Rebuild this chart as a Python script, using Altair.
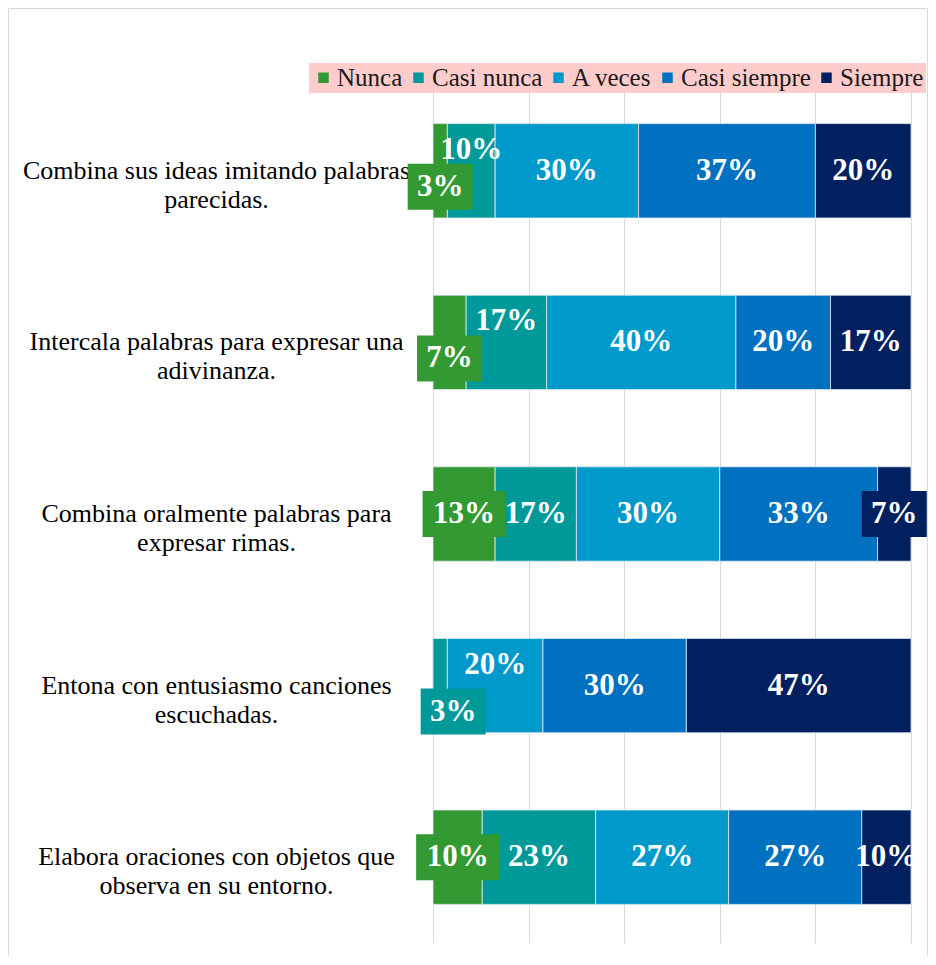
import altair as alt
import pandas as pd

categories = [
    "Combina sus ideas imitando palabras\nparecidas.",
    "Intercala palabras para expresar una\nadivinanza.",
    "Combina oralmente palabras para\nexpresar rimas.",
    "Entona con entusiasmo canciones\nescuchadas.",
    "Elabora oraciones con objetos que\nobserva en su entorno.",
]
series = ["Nunca", "Casi nunca", "A veces", "Casi siempre", "Siempre"]
colors = ["#339933", "#009999", "#0099CC", "#0070C0", "#002060"]

nunca = [3, 7, 13, 0, 10]
casi_nunca = [10, 17, 17, 3, 23]
a_veces = [30, 40, 30, 20, 27]
casi_siempre = [37, 20, 33, 30, 27]
siempre = [20, 17, 7, 47, 10]

# label placement style (row index, series) -> style name; default "center"
label_place = {
    (0, "Nunca"): "below", (0, "Casi nunca"): "above",
    (1, "Nunca"): "below", (1, "Casi nunca"): "above",
    (3, "Casi nunca"): "low", (3, "A veces"): "above",
}
# labels drawn with a filled callout box in the series colour
label_boxed = {(0, "Nunca"), (1, "Nunca"), (2, "Nunca"), (2, "Siempre"),
               (3, "Casi nunca"), (4, "Nunca")}

values = [nunca, casi_nunca, a_veces, casi_siempre, siempre]
rows = []
for si, s in enumerate(series):
    for ci, c in enumerate(categories):
        v = values[si][ci]
        rows.append({
            "category": c, "series": s, "order": si, "value": v,
            "label": f"{v}%", "place": label_place.get((ci, s), "center"),
            "boxed": (ci, s) in label_boxed, "nchar": len(f"{v}%"),
        })
df = pd.DataFrame(rows)

FONT = "Liberation Serif"
# placement style -> (x shift, y shift) in pixels
offsets = {"center": (0, 0), "above": (0, -21), "below": (0, 16), "low": (13, 26)}

y_enc = alt.Y(
    "category:N", sort=categories,
    scale=alt.Scale(paddingInner=0.45, paddingOuter=0.225),
    axis=alt.Axis(title=None, ticks=False, tickSize=0, domain=False,
                  labelAlign="center", labelPadding=217, labelFont=FONT,
                  labelFontSize=26, labelColor="#000000", labelLineHeight=29,
                  labelBaseline="middle", labelLimit=600,
                  labelExpr="split(datum.label, '\\n')"),
)
x_axis = alt.Axis(values=[0, 0.2, 0.4, 0.6, 0.8, 1], grid=True, labels=False,
                  ticks=False, domain=False, title=None,
                  gridColor="#D9D9D9", gridWidth=1)
x_scale = alt.Scale(domain=[0, 1], nice=False, zero=True)
color_scale = alt.Scale(domain=series, range=colors)

base = alt.Chart(df).transform_stack(
    stack="value", groupby=["category"], as_=["x0", "x1"], offset="normalize",
    sort=[alt.SortField("order", order="ascending")],
).transform_calculate(mid="(datum.x0 + datum.x1) / 2")

bars = base.mark_bar(stroke="#E3E8F0", strokeWidth=0.8).encode(
    x=alt.X("x0:Q", scale=x_scale, axis=x_axis),
    x2="x1:Q",
    y=y_enc,
    color=alt.Color(
        "series:N", scale=color_scale, sort=series,
        legend=alt.Legend(orient="none", legendX=-124, legendY=-22,
                          direction="horizontal", title=None,
                          symbolType="square", symbolSize=110,
                          symbolStrokeWidth=0, labelFont=FONT,
                          labelFontSize=25, labelColor="#1a1a1a",
                          labelOffset=1, columnPadding=3,
                          fillColor="#FFCCCC", padding=2, labelLimit=300),
    ),
    order=alt.Order("order:Q"),
)

layers = [bars]
box_shapes = {
    2: ("M-1,-0.708L1,-0.708L1,0.708L-1,0.708Z", 65 * 65),
    3: ("M-1,-0.554L1,-0.554L1,0.554L-1,0.554Z", 83 * 83),
}
for place, (dx, dy) in offsets.items():
    for n, (shape, size) in box_shapes.items():
        layers.append(
            base.transform_filter(
                f"datum.boxed && datum.place == '{place}' && datum.nchar == {n}"
            ).mark_point(shape=shape, size=size, filled=True, opacity=1,
                         strokeWidth=0, xOffset=dx, yOffset=dy).encode(
                x=alt.X("mid:Q", scale=x_scale, axis=x_axis),
                y=y_enc,
                color=alt.Color("series:N", scale=color_scale, legend=None),
            )
        )
for place, (dx, dy) in offsets.items():
    layers.append(
        base.transform_filter(
            f"datum.value > 0 && datum.place == '{place}'"
        ).mark_text(font=FONT, fontSize=31, fontWeight="bold", color="white",
                    align="center", baseline="middle",
                    xOffset=dx, yOffset=dy).encode(
            x=alt.X("mid:Q", scale=x_scale, axis=x_axis),
            y=y_enc,
            text="label:N",
        )
    )

frame = alt.Chart(pd.DataFrame({"f": [0]})).mark_rect(
    fillOpacity=0, stroke="#D9D9D9", strokeWidth=1
).encode(
    x=alt.value(-424.5), x2=alt.value(494.5),
    y=alt.value(-76.5), y2=alt.value(900),
)

chart = alt.layer(frame, *layers).properties(
    width=478, height=858,
    autosize=alt.AutoSizeParams(type="none"),
    padding={"left": 425, "top": 77, "right": 17, "bottom": 12},
    background="white",
).configure_view(stroke=None)

chart.save("out.html", embed_options={"renderer": "svg", "actions": False})
